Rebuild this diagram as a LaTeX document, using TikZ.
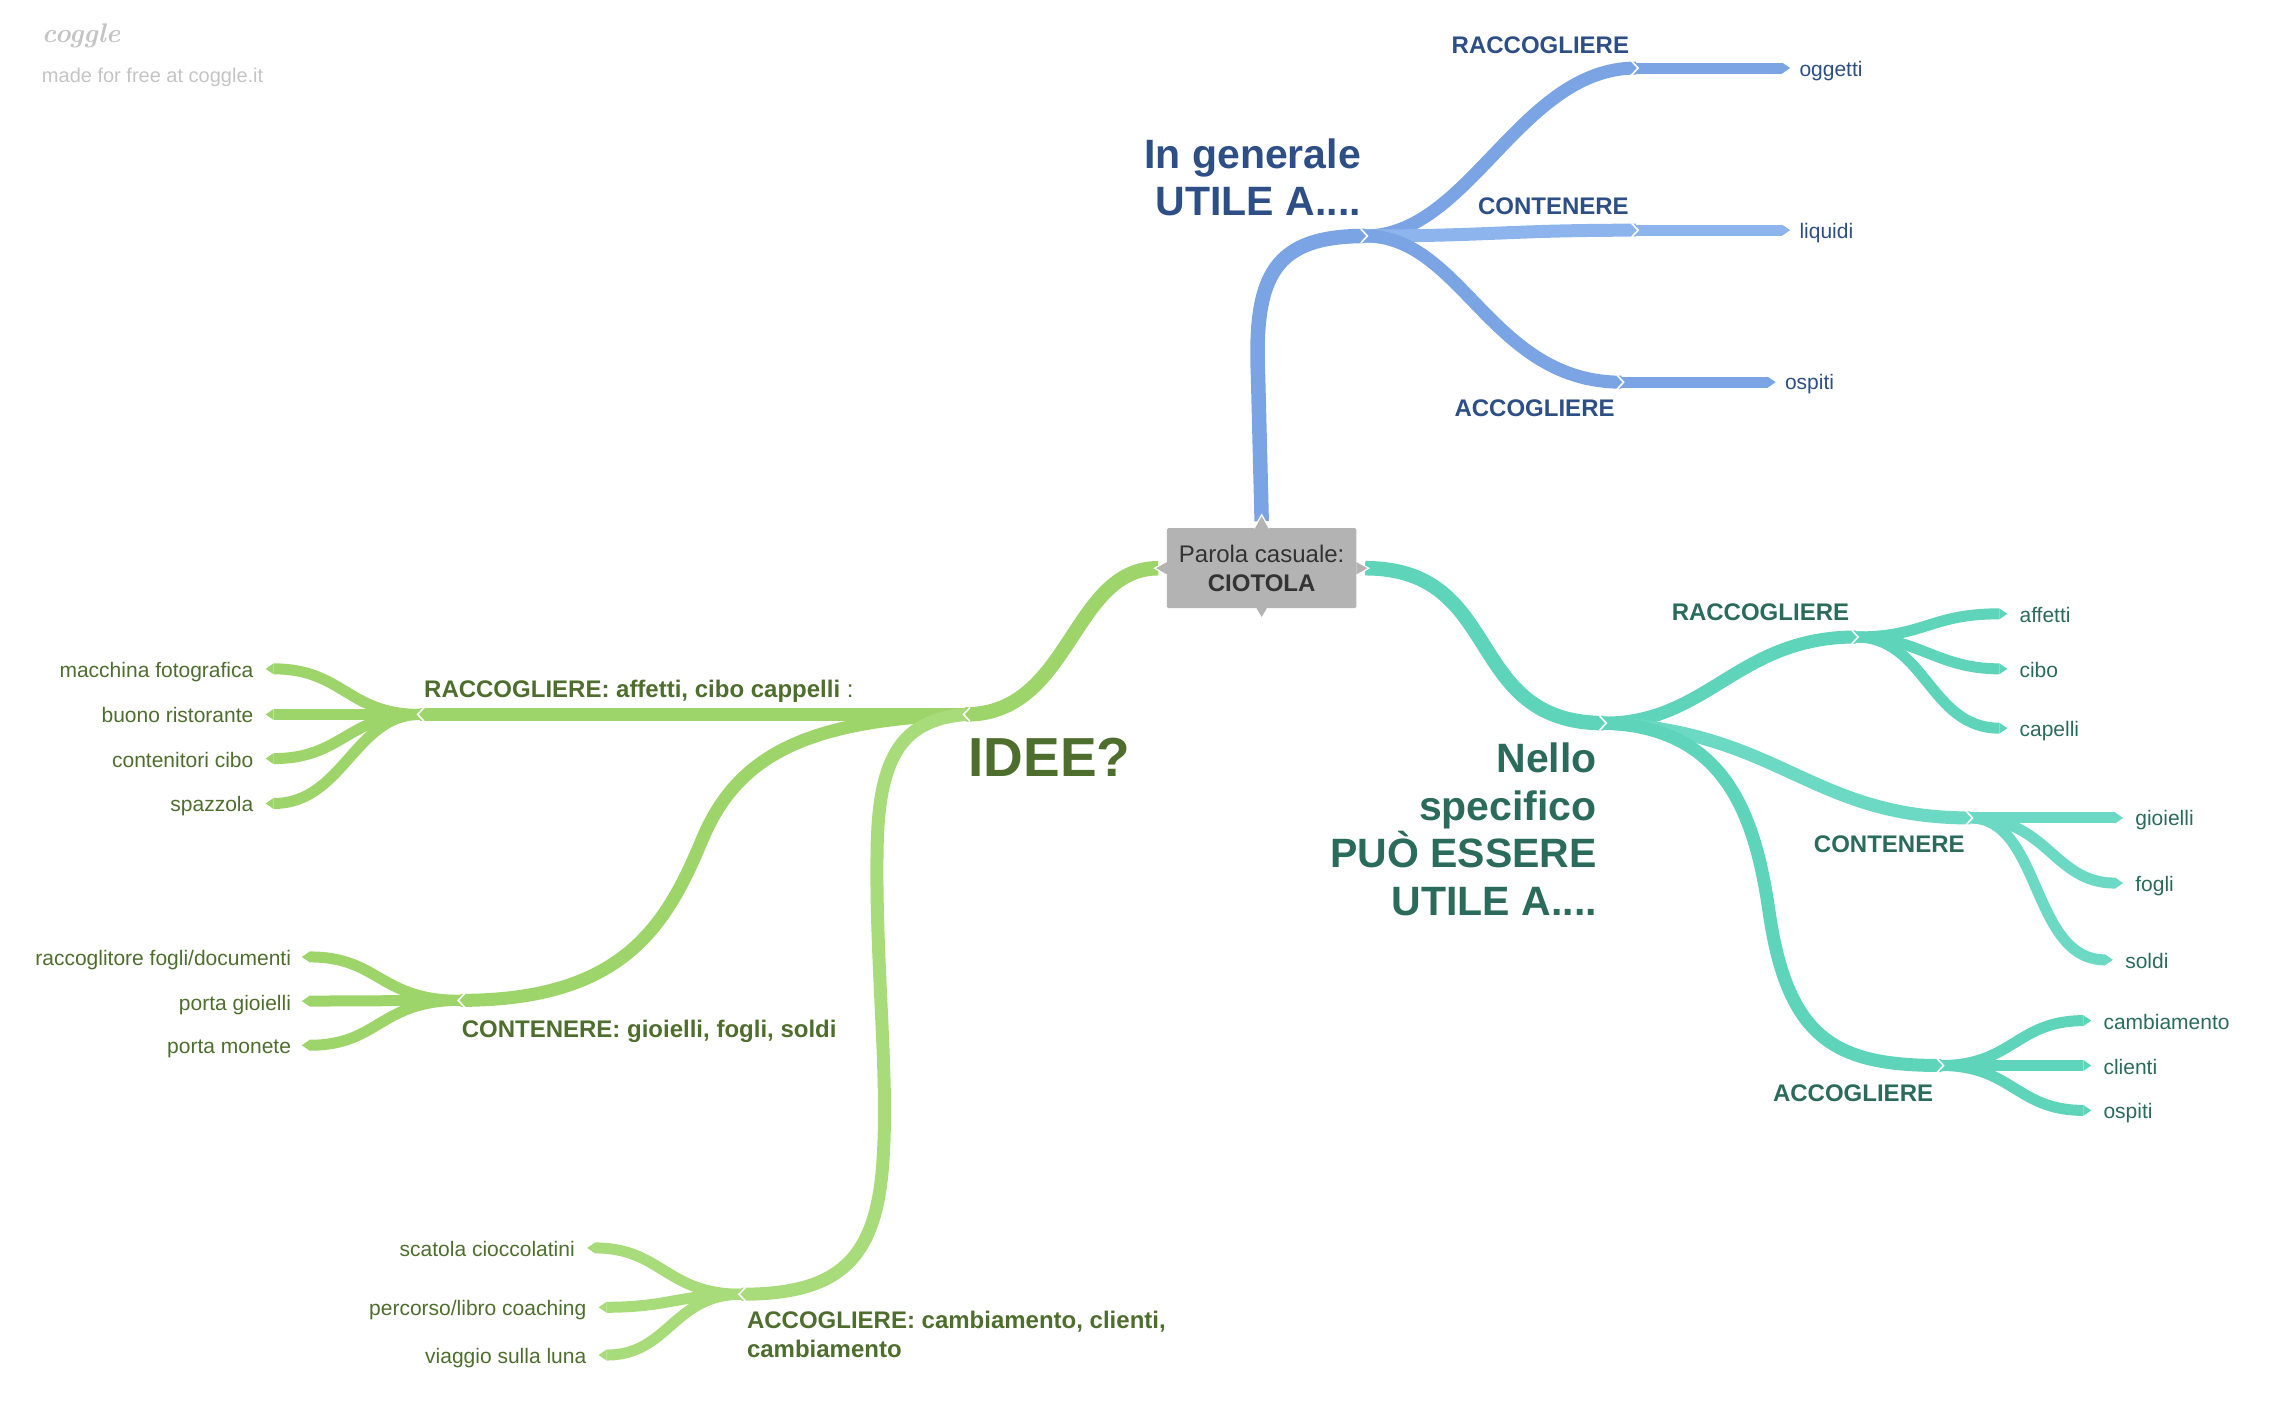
\documentclass[tikz,border=0pt]{standalone}
\usepackage{fontspec}
\setsansfont{Liberation Sans}
\definecolor{blueC}{HTML}{7BA4E5}
\definecolor{blueL}{HTML}{8DB4EC}
\definecolor{blueT}{HTML}{2D4F86}
\definecolor{greenC}{HTML}{9DD56A}
\definecolor{greenL}{HTML}{A8DB79}
\definecolor{greenT}{HTML}{4E6E2E}
\definecolor{tealC}{HTML}{5ED4BA}
\definecolor{tealL}{HTML}{6BD9C3}
\definecolor{tealT}{HTML}{2B6B5C}
\definecolor{nodeG}{HTML}{B3B3B3}
\definecolor{nodeT}{HTML}{333333}
\definecolor{logoG}{HTML}{C4C4C4}
\newcommand\chevR[1]{\draw[chev] ([shift={(-3,-4.8)}]#1) -- ([shift={(1.5,0)}]#1) -- ([shift={(-3,4.8)}]#1);}
\newcommand\chevL[1]{\draw[chev] ([shift={(3,-4.8)}]#1) -- ([shift={(-1.5,0)}]#1) -- ([shift={(3,4.8)}]#1);}
\newcommand\tipR[2]{\fill[#1] ([shift={(0,-3.8)}]#2) -- ([shift={(5.5,0)}]#2) -- ([shift={(0,3.8)}]#2) -- cycle;}
\newcommand\tipL[2]{\fill[#1] ([shift={(0,-3.8)}]#2) -- ([shift={(-5.5,0)}]#2) -- ([shift={(0,3.8)}]#2) -- cycle;}
\begin{document}
\begin{tikzpicture}[x=1.4477pt,y=-1.4477pt,
  every node/.style={inner sep=0pt,outer sep=0pt},
  mainline/.style={line width=14.5pt,line cap=butt},
  midline/.style={line width=13pt,line cap=butt},
  leafline/.style={line width=11pt,line cap=butt},
  chev/.style={draw=white,line width=1.6pt,line join=miter},
  leaftext/.style={font=\sffamily\fontsize{21}{25}\selectfont,text height=20pt,text depth=3pt},
  lbltext/.style={font=\sffamily\bfseries\fontsize{24}{29}\selectfont,text height=20pt,text depth=0pt},
  bigtext/.style={font=\sffamily\bfseries\fontsize{41}{47.5}\selectfont,align=right}
]
\useasboundingbox (0,0) rectangle (1568,978);

% ---------- coordinates ----------
\coordinate (ctop) at (871.5,360);
\coordinate (cl) at (800,392.5);
\coordinate (cr) at (943,392.5);
% blue
\coordinate (bJ) at (943,163);
\coordinate (bR) at (1130,47);  \coordinate (bRe) at (1231,47);
\coordinate (bC) at (1130,159); \coordinate (bCe) at (1231,159);
\coordinate (bA) at (1120,264); \coordinate (bAe) at (1221,264);
% green
\coordinate (gJ) at (667,493.5);
\coordinate (gR) at (290,493.5);
\coordinate (gC) at (318,691);
\coordinate (gA) at (512,894);
\coordinate (g1) at (189,462); \coordinate (g2) at (189,493.5);
\coordinate (g3) at (189,524); \coordinate (g4) at (189,555);
\coordinate (g5) at (214,661); \coordinate (g6) at (214,691.5);
\coordinate (g7) at (214,722);
\coordinate (g8) at (411,862); \coordinate (g9) at (419,903);
\coordinate (g10) at (419,936);
% teal
\coordinate (tJ) at (1108,499.5);
\coordinate (tR) at (1282,440);
\coordinate (tC) at (1361,565);
\coordinate (tA) at (1341,736);
\coordinate (t1) at (1381,424); \coordinate (t2) at (1381,462);
\coordinate (t3) at (1381,503);
\coordinate (t4) at (1461,565); \coordinate (t5) at (1461,610);
\coordinate (t6) at (1454,663);
\coordinate (t7) at (1439,705); \coordinate (t8) at (1439,736);
\coordinate (t9) at (1439,767);

% ---------- blue branches ----------
\draw[mainline,blueC] (ctop) -- (869,260) .. controls (866,190) and (880,163) .. (bJ);
\draw[midline,blueC] (bJ) .. controls (1015,163) and (1050,47) .. (bR);
\draw[midline,blueL] (bJ) .. controls (1030,163) and (1040,159) .. (bC);
\draw[midline,blueC] (bJ) .. controls (1010,163) and (1030,264) .. (bA);
\draw[leafline,blueC] (bR) -- (bRe); \tipR{blueC}{bRe}
\draw[leafline,blueL] (bC) -- (bCe); \tipR{blueL}{bCe}
\draw[leafline,blueC] (bA) -- (bAe); \tipR{blueC}{bAe}

% ---------- green branches ----------
\draw[mainline,greenC] (cl) .. controls (740,392.5) and (740,493.5) .. (gJ);
\draw[midline,greenC] (gJ) -- (gR);
\draw[midline,greenC] (gJ) .. controls (560,497) and (510,520) .. (485,580) .. controls (460,640) and (430,691) .. (gC);
\draw[midline,greenL] (gJ) .. controls (625,497) and (608,520) .. (606,580) .. controls (604,660) and (614,740) .. (610,800) .. controls (606,870) and (580,894) .. (gA);
\draw[leafline,greenC] (gR) .. controls (240,493.5) and (237,462) .. (g1); \tipL{greenC}{g1}
\draw[leafline,greenC] (gR) -- (g2); \tipL{greenC}{g2}
\draw[leafline,greenC] (gR) .. controls (240,493.5) and (237,524) .. (g3); \tipL{greenC}{g3}
\draw[leafline,greenC] (gR) .. controls (245,493.5) and (237,555) .. (g4); \tipL{greenC}{g4}
\draw[leafline,greenC] (gC) .. controls (262,691) and (262,661) .. (g5); \tipL{greenC}{g5}
\draw[leafline,greenC] (gC) -- (g6); \tipL{greenC}{g6}
\draw[leafline,greenC] (gC) .. controls (262,691) and (262,722) .. (g7); \tipL{greenC}{g7}
\draw[leafline,greenL] (gA) .. controls (460,894) and (457,862) .. (g8); \tipL{greenL}{g8}
\draw[leafline,greenL] (gA) .. controls (470,894) and (462,903) .. (g9); \tipL{greenL}{g9}
\draw[leafline,greenL] (gA) .. controls (465,894) and (462,936) .. (g10); \tipL{greenL}{g10}

% ---------- teal branches ----------
\draw[mainline,tealC] (cr) .. controls (1040,392.5) and (1010,499.5) .. (tJ);
\draw[midline,tealC] (tJ) .. controls (1180,499.5) and (1200,440) .. (tR);
\draw[midline,tealL] (tJ) .. controls (1230,505) and (1250,565) .. (tC);
\draw[midline,tealC] (tJ) .. controls (1190,502) and (1212,560) .. (1222,630) .. controls (1235,720) and (1270,736) .. (tA);
\draw[leafline,tealC] (tR) .. controls (1330,440) and (1333,424) .. (t1); \tipR{tealC}{t1}
\draw[leafline,tealC] (tR) .. controls (1325,440) and (1338,462) .. (t2); \tipR{tealC}{t2}
\draw[leafline,tealC] (tR) .. controls (1330,440) and (1333,503) .. (t3); \tipR{tealC}{t3}
\draw[leafline,tealL] (tC) -- (t4); \tipR{tealL}{t4}
\draw[leafline,tealL] (tC) .. controls (1415,565) and (1418,610) .. (t5); \tipR{tealL}{t5}
\draw[leafline,tealL] (tC) .. controls (1410,565) and (1403,663) .. (t6); \tipR{tealL}{t6}
\draw[leafline,tealC] (tA) .. controls (1390,736) and (1393,705) .. (t7); \tipR{tealC}{t7}
\draw[leafline,tealC] (tA) -- (t8); \tipR{tealC}{t8}
\draw[leafline,tealC] (tA) .. controls (1390,736) and (1393,767) .. (t9); \tipR{tealC}{t9}

% ---------- chevrons at joints ----------
\chevR{bJ} \chevR{bR} \chevR{bC} \chevR{bA}
\chevL{gJ} \chevL{gR} \chevL{gC} \chevL{gA}
\chevR{tJ} \chevR{tR} \chevR{tC} \chevR{tA}

% ---------- central node ----------
\node[fill=nodeG,rounded corners=1.5pt,minimum width=189.5pt,minimum height=80pt,
      align=center,text=nodeT,font=\sffamily\fontsize{24}{29}\selectfont] (center) at (871.5,392.5)
  {Parola casuale:\\\textbf{CIOTOLA}};
\filldraw[fill=nodeG,draw=white,line width=1.2pt] ([xshift=-7.5pt]center.north) -- ([yshift=13.5pt]center.north) -- ([xshift=7.5pt]center.north);
\fill[nodeG] ([xshift=-7.5pt,yshift=-1pt]center.north) rectangle ([xshift=7.5pt,yshift=-3pt]center.north);
\fill[nodeG] ([xshift=-5.2pt]center.south) -- ([yshift=-8.7pt]center.south) -- ([xshift=5.2pt]center.south) -- cycle;
\filldraw[fill=nodeG,draw=white,line width=1.2pt] ([yshift=7pt]center.west) -- ([xshift=-12.3pt]center.west) -- ([yshift=-7pt]center.west);
\fill[nodeG] ([yshift=7pt,xshift=1pt]center.west) rectangle ([yshift=-7pt,xshift=3pt]center.west);
\filldraw[fill=nodeG,draw=white,line width=1.2pt] ([yshift=7pt]center.east) -- ([xshift=12.3pt]center.east) -- ([yshift=-7pt]center.east);
\fill[nodeG] ([yshift=7pt,xshift=-1pt]center.east) rectangle ([yshift=-7pt,xshift=-3pt]center.east);

% ---------- logo ----------
\node[anchor=west,text=logoG,font=\rmfamily\itshape\bfseries\fontsize{27}{30}\selectfont] (logo) at (29,25) {coggle};
\node[anchor=west,text=logoG,font=\sffamily\fontsize{20}{24}\selectfont,text height=20pt,text depth=3pt] (made) at (29,51) {made for free at coggle.it};

% ---------- blue texts ----------
\node[bigtext,text=blueT,anchor=east] (bigB) at (940,122.5) {In generale\\UTILE A....};
\node[lbltext,text=blueT] (lbR) at (1064,30) {RACCOGLIERE};
\node[lbltext,text=blueT] (lbC) at (1073,141) {CONTENERE};
\node[lbltext,text=blueT] (lbA) at (1060,281) {ACCOGLIERE};
\node[leaftext,text=blueT,anchor=west] (lb1) at (1243,47) {oggetti};
\node[leaftext,text=blueT,anchor=west] (lb2) at (1243,159) {liquidi};
\node[leaftext,text=blueT,anchor=west] (lb3) at (1233,263) {ospiti};

% ---------- green texts ----------
\node[anchor=west,text=greenT,font=\sffamily\bfseries\fontsize{55}{60}\selectfont,text height=39pt,text depth=0pt] (idee) at (669,523) {IDEE?};
\node[lbltext,text=greenT,anchor=west] (lgR) at (293,475) {RACCOGLIERE: affetti, cibo cappelli\mdseries{} :};
\node[lbltext,text=greenT,anchor=west] (lgC) at (319,710) {CONTENERE: gioielli, fogli, soldi};
\node[font=\sffamily\bfseries\fontsize{24}{29}\selectfont,text=greenT,anchor=north west,align=left] (lgA) at (516,905.5) {ACCOGLIERE: cambiamento, clienti,\\cambiamento};
\node[leaftext,text=greenT,anchor=east] (lg1) at (175,462) {macchina fotografica};
\node[leaftext,text=greenT,anchor=east] (lg2) at (175,493) {buono ristorante};
\node[leaftext,text=greenT,anchor=east] (lg3) at (175,524) {contenitori cibo};
\node[leaftext,text=greenT,anchor=east] (lg4) at (175,555) {spazzola};
\node[leaftext,text=greenT,anchor=east] (lg5) at (201,661) {raccoglitore fogli/documenti};
\node[leaftext,text=greenT,anchor=east] (lg6) at (201,692) {porta gioielli};
\node[leaftext,text=greenT,anchor=east] (lg7) at (201,722) {porta monete};
\node[leaftext,text=greenT,anchor=east] (lg8) at (397,862) {scatola cioccolatini};
\node[leaftext,text=greenT,anchor=east] (lg9) at (405,903) {percorso/libro coaching};
\node[leaftext,text=greenT,anchor=east] (lg10) at (405,936) {viaggio sulla luna};

% ---------- teal texts ----------
\node[bigtext,text=tealT,anchor=east] (bigT) at (1103,573) {Nello\\specifico\\PU\`O ESSERE\\UTILE A....};
\node[lbltext,text=tealT] (ltR) at (1216,422) {RACCOGLIERE};
\node[lbltext,text=tealT] (ltC) at (1305,582) {CONTENERE};
\node[lbltext,text=tealT] (ltA) at (1280,754) {ACCOGLIERE};
\node[leaftext,text=tealT,anchor=west] (lt1) at (1395,424) {affetti};
\node[leaftext,text=tealT,anchor=west] (lt2) at (1395,462) {cibo};
\node[leaftext,text=tealT,anchor=west] (lt3) at (1395,503) {capelli};
\node[leaftext,text=tealT,anchor=west] (lt4) at (1475,564) {gioielli};
\node[leaftext,text=tealT,anchor=west] (lt5) at (1475,610) {fogli};
\node[leaftext,text=tealT,anchor=west] (lt6) at (1468,663) {soldi};
\node[leaftext,text=tealT,anchor=west] (lt7) at (1453,705) {cambiamento};
\node[leaftext,text=tealT,anchor=west] (lt8) at (1453,736) {clienti};
\node[leaftext,text=tealT,anchor=west] (lt9) at (1453,767) {ospiti};
\end{tikzpicture}
\end{document}
